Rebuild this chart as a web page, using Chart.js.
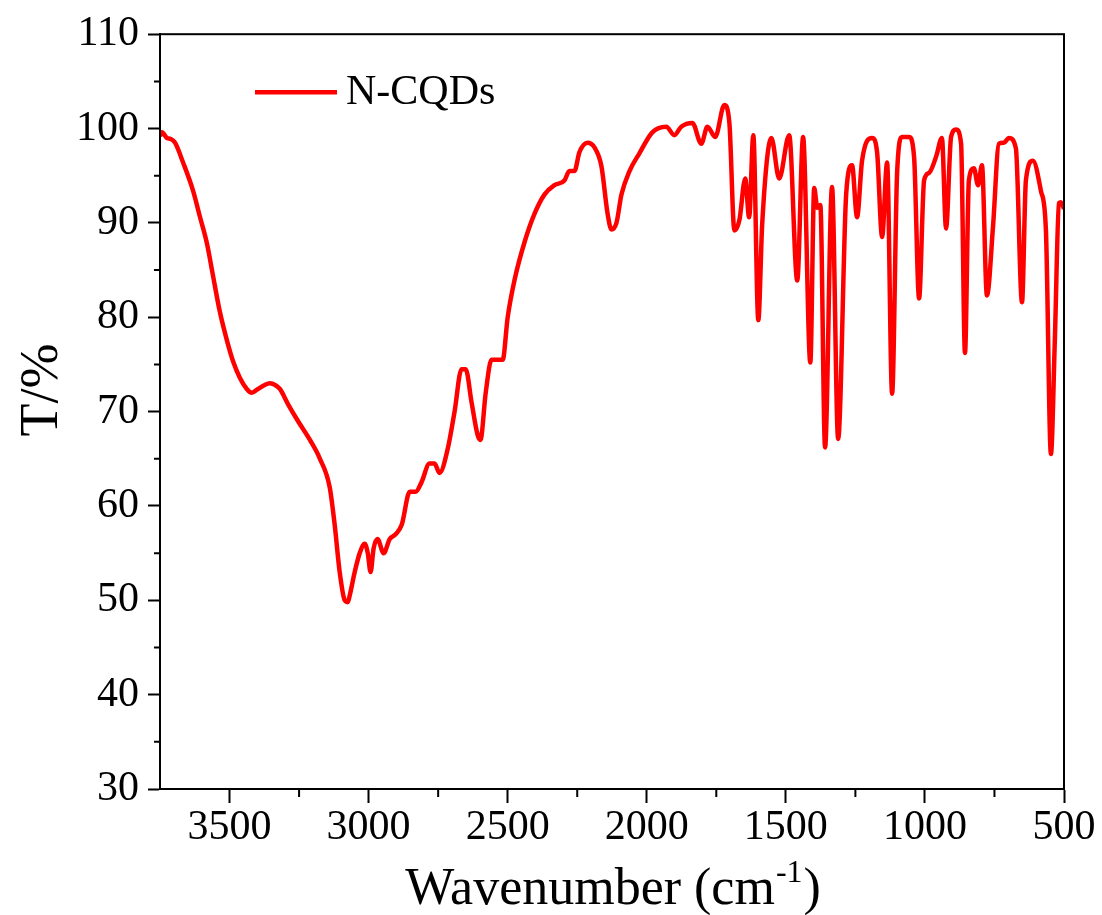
<!DOCTYPE html>
<html>
<head>
<meta charset="utf-8">
<script src="https://cdn.jsdelivr.net/npm/chart.js@4"></script>
<style>
  html, body { margin: 0; padding: 0; background: #fff; }
  #wrap { width: 1102px; height: 915px; }
</style>
</head>
<body>
<div id="wrap"><canvas id="ftir" width="1102" height="915"></canvas></div>
<script>
// wavenumber (cm-1)
const wavenumber = [
  3750, 3743, 3725, 3712, 3696, 3667, 3631, 3606, 3581, 3560, 3535, 3509, 3488, 3463, 3438, 3420,
  3398, 3375, 3355, 3335, 3319, 3290, 3254, 3211, 3175, 3140, 3122, 3104, 3086, 3075, 3068, 3050,
  3032, 3014, 3003, 2993, 2982, 2968, 2946, 2924, 2903, 2881, 2852, 2831, 2810, 2781, 2763, 2745,
  2716, 2691, 2666, 2651, 2630, 2608, 2598, 2579, 2558, 2529, 2518, 2500, 2475, 2439, 2403, 2368,
  2332, 2296, 2278, 2260, 2242, 2213, 2188, 2163, 2141, 2127, 2109, 2091, 2062, 2026, 1980, 1930,
  1901, 1876, 1836, 1804, 1782, 1754, 1721, 1703, 1685, 1667, 1646, 1632, 1617, 1599, 1585, 1552,
  1524, 1488, 1459, 1438, 1412, 1398, 1387, 1376, 1359, 1334, 1312, 1283, 1262, 1244, 1226, 1190,
  1172, 1154, 1136, 1118, 1100, 1082, 1057, 1039, 1021, 1003, 985, 960, 939, 924, 906, 888,
  870, 856, 842, 824, 809, 795, 777, 755, 734, 716, 698, 673, 651, 637, 612, 583,
  565, 547, 533, 518, 511, 500
];
// transmittance T/%
const transmittance = [
  99.2, 99.6, 99.0, 98.9, 98.5, 96.4, 93.4, 90.6, 87.8, 84.5, 80.6, 77.5, 75.4, 73.6, 72.4, 72,
  72.4, 72.8, 73, 72.8, 72.4, 70.8, 69, 67, 65, 62, 58, 53, 50, 49.8, 50.5, 53,
  55, 56, 55, 53, 55.5, 56.5, 55, 56.5, 57, 58, 61.5, 61.5, 62.5, 64.5, 64.5, 63.5,
  66, 70, 74.5, 74.5, 71, 67.5, 67, 72, 75.5, 75.5, 75.5, 80, 84, 88, 91, 93,
  94, 94.5, 95.5, 95.5, 97.5, 98.5, 98, 96, 91, 89.3, 90, 93, 95.5, 97.4, 99.6, 100.2,
  99.3, 100.2, 100.6, 98.4, 100.2, 99.1, 102.5, 100.6, 89.2, 90.3, 94.7, 90.6, 99.3, 79.7, 89.9, 99,
  94.7, 99.3, 83.9, 99.1, 75.2, 93.7, 91.6, 91.9, 66.2, 93.8, 67.1, 93.1, 96.1, 90.6, 96.6, 99,
  97.5, 88.5, 96.4, 71.9, 95.3, 99.1, 99.1, 97, 82, 94.5, 95.3, 97, 99, 89.4, 99.1, 99.9,
  98.4, 76.2, 94.5, 95.8, 94, 96.1, 82.3, 89.7, 98.4, 98.5, 99, 97.9, 81.6, 94.5, 96.6, 93.4,
  89.2, 65.5, 77.5, 92.1, 92.2, 91.5
];

const xTicks = [3500, 3000, 2500, 2000, 1500, 1000, 500];
const xMinor = [3750, 3250, 2750, 2250, 1750, 1250, 750];
const yTicks = [30, 40, 50, 60, 70, 80, 90, 100, 110];
const yMinor = [35, 45, 55, 65, 75, 85, 95, 105];

const seriesName = "N-CQDs";
const serif = "'Liberation Serif', 'Times New Roman', serif";

const points = wavenumber.map((w, i) => ({ x: w, y: transmittance[i] }));

// box, minor ticks, legend and axis titles
const extras = {
  id: "extras",
  afterDraw(chart) {
    const ctx = chart.ctx;
    const a = chart.chartArea;
    const xs = chart.scales.x, ys = chart.scales.y;
    ctx.save();
    ctx.strokeStyle = "#000";
    ctx.lineWidth = 2;
    ctx.strokeRect(a.left, a.top, a.right - a.left, a.bottom - a.top);

    ctx.beginPath();
    xMinor.forEach(v => {
      const px = xs.getPixelForValue(v);
      if (px > a.left + 1 && px < a.right - 1) {
        ctx.moveTo(px, a.bottom);
        ctx.lineTo(px, a.bottom + 8);
      }
    });
    yMinor.forEach(v => {
      const py = ys.getPixelForValue(v);
      ctx.moveTo(a.left, py);
      ctx.lineTo(a.left - 6, py);
    });
    ctx.stroke();

    // legend
    const ds = chart.data.datasets[0];
    ctx.strokeStyle = ds.borderColor;
    ctx.lineWidth = 4.5;
    ctx.beginPath();
    ctx.moveTo(a.left + 95, a.top + 58);
    ctx.lineTo(a.left + 177, a.top + 58);
    ctx.stroke();
    ctx.fillStyle = "#000";
    ctx.font = "42px " + serif;
    ctx.textBaseline = "middle";
    ctx.textAlign = "left";
    ctx.fillText(ds.label, a.left + 186, a.top + 59);

    // x title with superscript
    ctx.textBaseline = "alphabetic";
    const main = "Wavenumber (cm";
    ctx.font = "52px " + serif;
    const w1 = ctx.measureText(main).width;
    ctx.font = "32px " + serif;
    const w2 = ctx.measureText("-1").width;
    ctx.font = "52px " + serif;
    const w3 = ctx.measureText(")").width;
    const x0 = (a.left + a.right) / 2 - (w1 + w2 + w3) / 2;
    const base = 904;
    ctx.fillText(main, x0, base);
    ctx.font = "32px " + serif;
    ctx.fillText("-1", x0 + w1 + 1, base - 22);
    ctx.font = "52px " + serif;
    ctx.fillText(")", x0 + w1 + w2 + 2, base);

    // y title
    ctx.translate(57, 390);
    ctx.rotate(-Math.PI / 2);
    ctx.textAlign = "center";
    ctx.font = "54px " + serif;
    ctx.fillText("T/%", 0, 0);
    ctx.restore();
  }
};

new Chart(document.getElementById("ftir").getContext("2d"), {
  type: "line",
  data: {
    datasets: [
      {
        label: seriesName,
        data: points,
        borderColor: "#ff0000",
        borderWidth: 4.5,
        pointRadius: 0,
        fill: false,
        cubicInterpolationMode: "monotone",
      },
    ],
  },
  options: {
    responsive: false,
    animation: false,
    layout: { padding: { top: 34, right: 38, left: 0, bottom: 0 } },
    plugins: { legend: { display: false }, tooltip: { enabled: false } },
    scales: {
      x: {
        type: "linear",
        reverse: true,
        min: 500,
        max: 3750,
        afterBuildTicks: (s) => { s.ticks = xTicks.map(v => ({ value: v })); },
        afterFit: (s) => { s.height = 126; },
        grid: { drawOnChartArea: false, tickLength: 14, tickWidth: 2, tickColor: "#000" },
        border: { color: "#000", width: 2 },
        ticks: {
          color: "#000",
          font: { family: serif, size: 42 },
          padding: 0,
          maxRotation: 0,
          callback: (v) => String(v),
        },
      },
      y: {
        min: 30,
        max: 110,
        afterBuildTicks: (s) => { s.ticks = yTicks.map(v => ({ value: v })); },
        afterFit: (s) => { s.width = 160; },
        grid: { drawOnChartArea: false, tickLength: 12, tickWidth: 2, tickColor: "#000" },
        border: { color: "#000", width: 2 },
        ticks: { color: "#000", font: { family: serif, size: 42 }, padding: 9, callback: (v) => String(v) },
      },
    },
  },
  plugins: [extras],
});
</script>
</body>
</html>
